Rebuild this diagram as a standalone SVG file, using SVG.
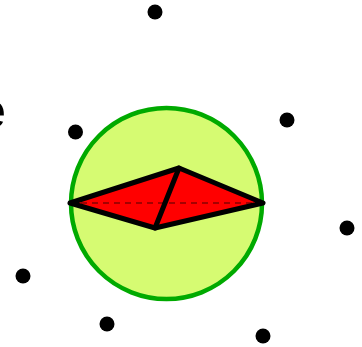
<svg xmlns="http://www.w3.org/2000/svg" width="362" height="347" viewBox="0 0 362 347">
<style>
.dot{fill:#000}
.edge{stroke:#000;stroke-width:5;stroke-linejoin:round;stroke-linecap:round;fill:none}
</style>
<rect width="362" height="347" fill="#fff"/>
<text x="6" y="128" font-family="Liberation Sans, sans-serif" font-size="50" text-anchor="end" fill="#000">e</text>
<g id="sphere"><circle cx="166.5" cy="203.5" r="95.5" fill="#d6fb72" stroke="#00aa00" stroke-width="4.5"/></g>
<g id="diamond">
<polygon points="70,203 179,168 263,203 155,228" fill="#ff0000"/>
</g>
<g id="connectors">
<line x1="70" y1="203" x2="263" y2="203" stroke="#000" stroke-width="1.2" stroke-dasharray="6,5" opacity="0.7"/>
<polygon class="edge" points="70,203 179,168 263,203 155,228"/>
<line class="edge" x1="179" y1="168" x2="155" y2="228"/>
</g>
<g id="p1"><circle class="dot" cx="155" cy="12" r="7.5"/></g>
<g id="p2"><circle class="dot" cx="75.5" cy="132" r="7.5"/></g>
<g id="p3"><circle class="dot" cx="287" cy="120" r="7.5"/></g>
<g id="p4"><circle class="dot" cx="347" cy="228" r="7.5"/></g>
<g id="p5"><circle class="dot" cx="23" cy="276" r="7.5"/></g>
<g id="p6"><circle class="dot" cx="107" cy="324" r="7.5"/></g>
<g id="p7"><circle class="dot" cx="263" cy="336" r="7.5"/></g>
</svg>
